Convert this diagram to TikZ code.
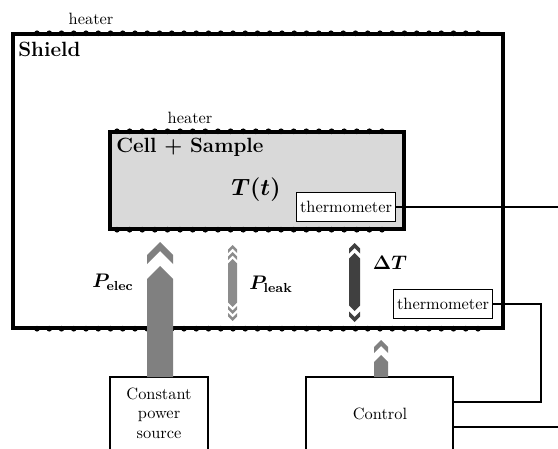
\documentclass[tikz,border=0pt]{standalone}
\usepackage{bm}
\usetikzlibrary{fit}
\definecolor{cellgray}{HTML}{D9D9D9}
\definecolor{arrgray}{HTML}{808080}
\definecolor{leakgray}{HTML}{8C8C8C}
\definecolor{darkarr}{HTML}{404040}
% chevron pointing up: colour, cx, tip y, half width, thickness
\newcommand{\mychevup}[5]{\fill[#1] ({#2-#4},{#3+#4}) -- (#2,#3) -- ({#2+#4},{#3+#4}) -- ({#2+#4},{#3+#4+#5}) -- (#2,{#3+#5}) -- ({#2-#4},{#3+#4+#5}) -- cycle;}
% chevron pointing down
\newcommand{\mychevdown}[5]{\fill[#1] ({#2-#4},{#3-#4}) -- (#2,#3) -- ({#2+#4},{#3-#4}) -- ({#2+#4},{#3-#4-#5}) -- (#2,{#3-#5}) -- ({#2-#4},{#3-#4-#5}) -- cycle;}
% bar pointed at both ends: colour, cx, top tip, bottom tip, half width
\newcommand{\mydbar}[5]{\fill[#1] (#2,#3) -- ({#2+#5},{#3+#5}) -- ({#2+#5},{#4-#5}) -- (#2,#4) -- ({#2-#5},{#4-#5}) -- ({#2-#5},{#3+#5}) -- cycle;}
% bar pointed at top, flat bottom
\newcommand{\myubar}[5]{\fill[#1] (#2,#3) -- ({#2+#5},{#3+#5}) -- ({#2+#5},#4) -- ({#2-#5},#4) -- ({#2-#5},{#3+#5}) -- cycle;}
\begin{document}
\begin{tikzpicture}[x=0.611pt,y=-0.611pt,
  wall/.style={draw,inner sep=0pt,line width=2pt},
  unitbox/.style={draw,inner sep=0pt,line width=1.2pt},
  thermo/.style={draw,fill=white,line width=0.6pt,inner sep=2pt,minimum height=17.5pt},
  wire/.style={line width=0.8pt},
  bump/.style={fill=black},
  lbl/.style={inner sep=0pt}]
\useasboundingbox (0,0) rectangle (558,449);

% shield and cell
\node[wall,fit={(13,34)(503,328)}] (shield) {};
\node[wall,fill=cellgray,fit={(110,132)(404,229)}] (cell) {};

% heaters
\foreach \i in {0,...,36} {
  \fill[bump] ({37+\i*12.25},33.3) circle[radius=1.75pt];
  \fill[bump] ({37+\i*12.25},328.7) circle[radius=1.75pt];
}
\foreach \i in {0,...,21} {
  \fill[bump] ({117+\i*12.62},131.3) circle[radius=1.75pt];
  \fill[bump] ({117+\i*12.62},229.7) circle[radius=1.75pt];
}

% labels
\node[lbl] (heat1) at (91,19) {heater};
\node[lbl] (heat2) at (190,118) {heater};
\node[lbl,anchor=west,font=\fontsize{12.6}{15}\selectfont\bfseries] (shieldlbl) at (18,49) {Shield};
\node[lbl,anchor=west,font=\fontsize{12.6}{15}\selectfont\bfseries] (celllbl) at (116,147) {Cell + Sample};
\node[lbl,font=\fontsize{15.5}{18}\selectfont] (temp) at (256,190) {$\bm{T(t)}$};
\node[lbl,font=\large] (pelec) at (113,282) {$\bm{P}_{\mathbf{elec}}$};
\node[lbl,font=\large] (pleak) at (271,284) {$\bm{P}_{\mathbf{leak}}$};
\node[lbl,font=\large] (dT) at (390,263) {$\bm{\Delta T}$};

% thermometers
\node[thermo] (th1) at (346,207) {thermometer};
\node[thermo] (th2) at (443,304) {thermometer};

% bottom units
\node[unitbox,fit={(306,377)(453,490)}] (control) {};
\node[lbl] (controltxt) at (380,414) {Control};
\node[unitbox,fit={(110,377)(208,490)}] (power) {};
\node[lbl,align=center] (powertxt) at (159,413) {Constant\\power\\source};

% wires
\coordinate (e1) at (562,207);
\draw[wire] (th1.east) -- (th1.east -| e1);
\coordinate (c2) at (541,402);
\draw[wire] (th2.east) -| (c2) -- (c2 -| control.east);
\coordinate (c3) at (562,427);
\draw[wire] (c3 -| control.east) -- (c3);

% P_elec arrow
\myubar{arrgray}{160}{266}{377}{13}
\mychevup{arrgray}{160}{242}{13}{9}
% control arrow
\myubar{arrgray}{381}{355}{377}{7}
\mychevup{arrgray}{381}{340}{7}{6}
% Delta T arrow
\mychevup{darkarr}{354.5}{243}{5.5}{5}
\mydbar{darkarr}{354.5}{253}{311}{5.5}
\mychevdown{darkarr}{354.5}{322}{5.5}{5}
% P_leak arrow
\mychevup{leakgray}{232.5}{245}{4.5}{3.5}
\mychevup{leakgray}{232.5}{252}{4.5}{3.5}
\mydbar{leakgray}{232.5}{259}{307}{4.5}
\mychevdown{leakgray}{232.5}{314}{4.5}{3.5}
\mychevdown{leakgray}{232.5}{321}{4.5}{3.5}
\end{tikzpicture}
\end{document}
